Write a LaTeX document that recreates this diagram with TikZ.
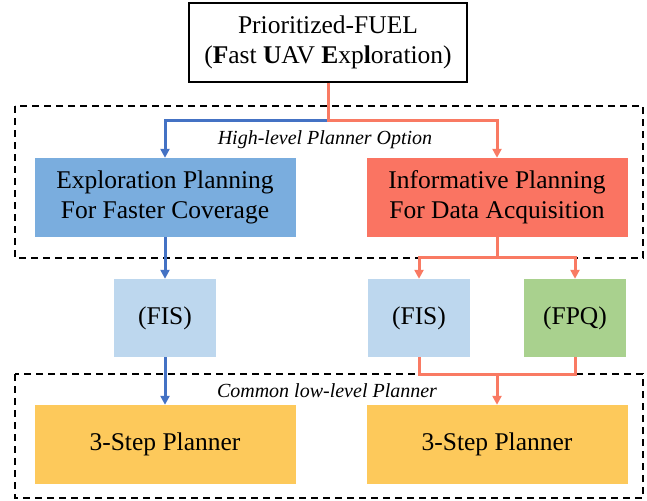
\documentclass[tikz,border=0pt]{standalone}
\usepackage{fontspec}
\setmainfont{Liberation Serif}
\usepackage{xcolor}
\usetikzlibrary{arrows.meta,positioning,calc}
\definecolor{bExplore}{HTML}{7AADDE}
\definecolor{bInform}{HTML}{FA7462}
\definecolor{bFis}{HTML}{BDD7EE}
\definecolor{bFpq}{HTML}{A9D18E}
\definecolor{bStep}{HTML}{FDC95B}
\definecolor{lBlue}{HTML}{4472C4}
\definecolor{lRed}{HTML}{F97A63}
\tikzset{
  plbox/.style={draw=none, inner sep=2pt, align=center,
                font=\fontsize{25.5}{30}\selectfont, text=black},
  rootbox/.style={plbox, draw=black, line width=1.5pt, fill=white,
                  minimum width=278, minimum height=79},
  widebox/.style={plbox, minimum width=261, minimum height=79},
  smallbox/.style={plbox, minimum width=102, minimum height=78},
  groupbox/.style={draw=black, line width=1.6pt,
                   dash pattern=on 7pt off 5pt},
  grouplab/.style={font=\fontsize{20}{22}\selectfont\itshape, inner sep=1pt},
  blueflow/.style={draw=lBlue, line width=3pt},
  redflow/.style={draw=lRed, line width=3pt},
  tip/.style={-{Triangle[length=9pt, width=9pt]}},
}
\begin{document}
\begin{tikzpicture}[x=1pt, y=-1pt]
  \useasboundingbox (0,0) rectangle (647,500);
  % planner option frames
  \draw[groupbox] (15,106) rectangle (643,258);
  \draw[groupbox] (15,374) rectangle (643,498);
  \node[grouplab] (highlab) at (325,140) {High-level Planner Option};
  \node[grouplab] (lowlab) at (327,391) {Common low-level Planner};
  % top
  \node[rootbox] (fuel) at (328,42.5)
    {Prioritized-FUEL\\(\textbf{F}ast \textbf{U}AV \textbf{E}xp\textbf{l}oration)};
  % high-level planners
  \node[widebox, fill=bExplore] (explore) at (165,197.5)
    {Exploration Planning\\For Faster Coverage};
  \node[widebox, fill=bInform] (inform) at (497,197.5)
    {Informative Planning\\For Data Acquisition};
  % middle
  \node[smallbox, fill=bFis] (fisA) at (165,318) {(FIS)};
  \node[smallbox, fill=bFis] (fisB) at (419,318) {(FIS)};
  \node[smallbox, fill=bFpq] (fpq) at (575,318) {(FPQ)};
  % low-level planners
  \node[widebox, fill=bStep] (stepA) at (165,444.5) {3-Step Planner};
  \node[widebox, fill=bStep] (stepB) at (497,444.5) {3-Step Planner};
  % junctions
  \coordinate (hsplit) at (328,120);
  \coordinate (isplit) at (497,257);
  \coordinate (imerge) at (497,374);
  % edges
  \draw[blueflow, tip] (fuel.south) -- (hsplit) -| (explore.north);
  \draw[redflow, tip] (fuel.south) -- (hsplit) -| (inform.north);
  \draw[blueflow, tip] (explore.south) -- (fisA.north);
  \draw[blueflow, tip] (fisA.south) -- (stepA.north);
  \draw[redflow] (inform.south) -- (isplit);
  \draw[redflow, tip] (isplit) -| (fisB.north);
  \draw[redflow, tip] (isplit) -| (fpq.north);
  \draw[redflow] (fisB.south) |- (imerge) -| (fpq.south);
  \draw[redflow, tip] (imerge) -- (stepB.north);
\end{tikzpicture}
\end{document}
